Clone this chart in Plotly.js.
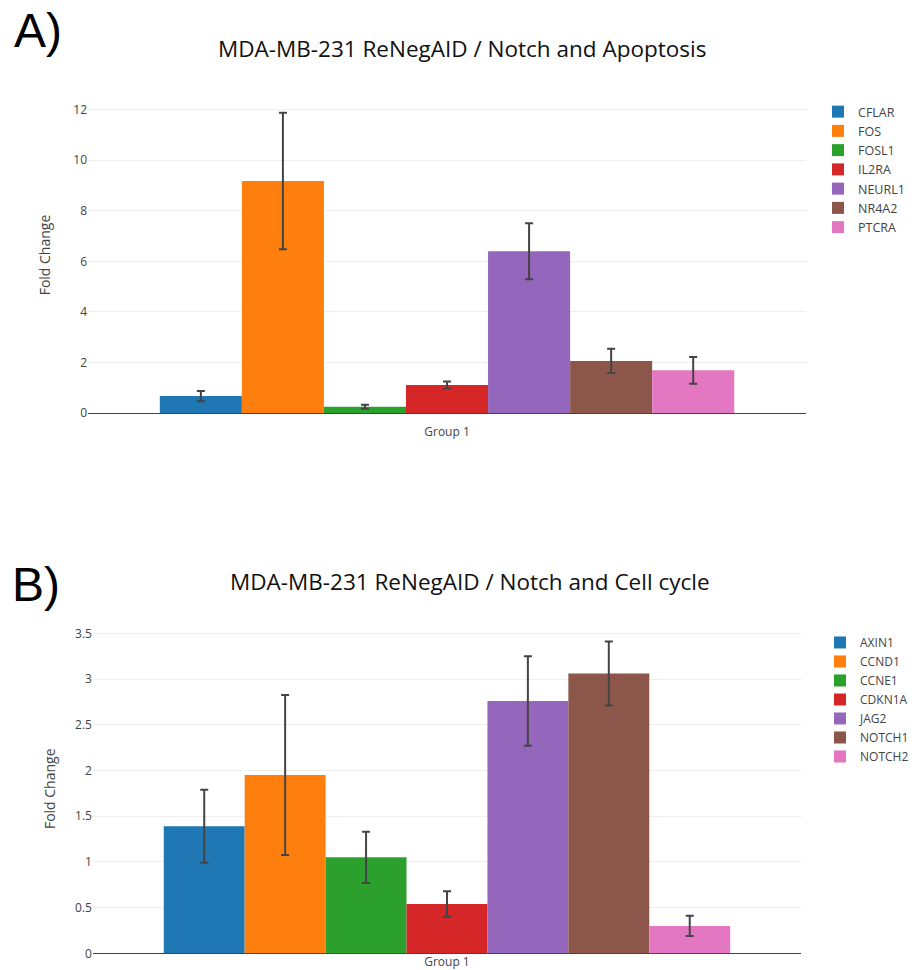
<!DOCTYPE html>
<html>
<head>
<meta charset="utf-8">
<script src="https://cdn.plot.ly/plotly-3.0.1.min.js"></script>
<style>
  html, body { margin: 0; padding: 0; background: #fff; }
  #chart { width: 915px; height: 970px; }
</style>
</head>
<body>
<div id="chart"></div>
<script>
// ---- Data ----
const groupLabel = ['Group 1'];

const genesA  = ['CFLAR', 'FOS', 'FOSL1', 'IL2RA', 'NEURL1', 'NR4A2', 'PTCRA'];
const valuesA = [0.67, 9.18, 0.25, 1.11, 6.40, 2.06, 1.69];
const errorsA = [0.20, 2.70, 0.08, 0.14, 1.11, 0.48, 0.53];

const genesB  = ['AXIN1', 'CCND1', 'CCNE1', 'CDKN1A', 'JAG2', 'NOTCH1', 'NOTCH2'];
const valuesB = [1.39, 1.95, 1.05, 0.54, 2.76, 3.06, 0.30];
const errorsB = [0.40, 0.875, 0.28, 0.14, 0.49, 0.35, 0.11];

const titleA = 'MDA-MB-231 ReNegAID / Notch and Apoptosis';
const titleB = 'MDA-MB-231 ReNegAID / Notch and Cell cycle';
const panelA = 'A)';
const panelB = 'B)';
const yTitle = 'Fold Change';

const palette = ['#1f77b4', '#ff7f0e', '#2ca02c', '#d62728', '#9467bd', '#8c564b', '#e377c2'];

// ---- Traces ----
const traces = [];
genesA.forEach((g, i) => {
  traces.push({
    type: 'bar', name: g, x: groupLabel, y: [valuesA[i]],
    marker: { color: palette[i % palette.length] },
    error_y: { type: 'data', array: [errorsA[i]], visible: true, color: '#444', thickness: 2, width: 4 },
    xaxis: 'x', yaxis: 'y', legend: 'legend'
  });
});
genesB.forEach((g, i) => {
  traces.push({
    type: 'bar', name: g, x: groupLabel, y: [valuesB[i]],
    marker: { color: palette[i % palette.length] },
    error_y: { type: 'data', array: [errorsB[i]], visible: true, color: '#444', thickness: 2, width: 4 },
    xaxis: 'x2', yaxis: 'y2', legend: 'legend2'
  });
});

const fam = '"Open Sans", verdana, arial, sans-serif';
const axisFont = { family: fam, size: 12, color: '#444' };
const legendFontA = { family: fam, size: 12.5, color: '#444' };
const legendFontB = { family: fam, size: 12, color: '#444' };
const yTitleFont = { family: fam, size: 14, color: '#444' };
const titleFont = { family: '"Open Sans", Arial, sans-serif', size: 22.5, color: '#111' };
const panelFont = { family: '"Liberation Sans", Arial, sans-serif', size: 48, color: '#000' };

const layout = {
  width: 915, height: 970,
  margin: { l: 0, r: 0, t: 0, b: 0, autoexpand: false },
  paper_bgcolor: '#fff', plot_bgcolor: '#fff',
  font: axisFont,
  barmode: 'group', bargap: 0.2,
  showlegend: true,
  xaxis:  { domain: [0.0962, 0.8809], anchor: 'y',  type: 'category', tickfont: axisFont, showgrid: false,
            ticklabelstandoff: 10 },
  yaxis:  { domain: [0.5742, 0.9000], anchor: 'x',  range: [0, 12.5], dtick: 2, gridcolor: '#eee',
            zerolinecolor: '#444', tickfont: axisFont,
            title: { text: yTitle, font: yTitleFont } },
  xaxis2: { domain: [0.1016, 0.8754], anchor: 'y2', type: 'category', tickfont: axisFont, showgrid: false },
  yaxis2: { domain: [0.0172, 0.3565], anchor: 'x2', range: [0, 3.6], dtick: 0.5, gridcolor: '#eee',
            zerolinecolor: '#444', tickfont: axisFont,
            title: { text: yTitle, font: yTitleFont } },
  legend:  { x: 0.8940, xanchor: 'left', y: 0.900, yanchor: 'top', font: legendFontA, bgcolor: 'rgba(0,0,0,0)' },
  legend2: { x: 0.8962, xanchor: 'left', y: 0.3526, yanchor: 'top', font: legendFontB, bgcolor: 'rgba(0,0,0,0)' },
  annotations: [
    { text: titleA, xref: 'paper', yref: 'paper', x: 462 / 915, y: 1 - 48 / 970, xanchor: 'center', yanchor: 'middle',
      showarrow: false, font: titleFont },
    { text: titleB, xref: 'paper', yref: 'paper', x: 470 / 915, y: 1 - 581 / 970, xanchor: 'center', yanchor: 'middle',
      showarrow: false, font: titleFont },
    { text: panelA, xref: 'paper', yref: 'paper', x: 12 / 915, y: 1 - 31 / 970, xanchor: 'left', yanchor: 'middle',
      showarrow: false, font: panelFont },
    { text: panelB, xref: 'paper', yref: 'paper', x: 10 / 915, y: 1 - 584 / 970, xanchor: 'left', yanchor: 'middle',
      showarrow: false, font: panelFont }
  ]
};

Plotly.newPlot('chart', traces, layout, { displayModeBar: false, staticPlot: true });
</script>
</body>
</html>
